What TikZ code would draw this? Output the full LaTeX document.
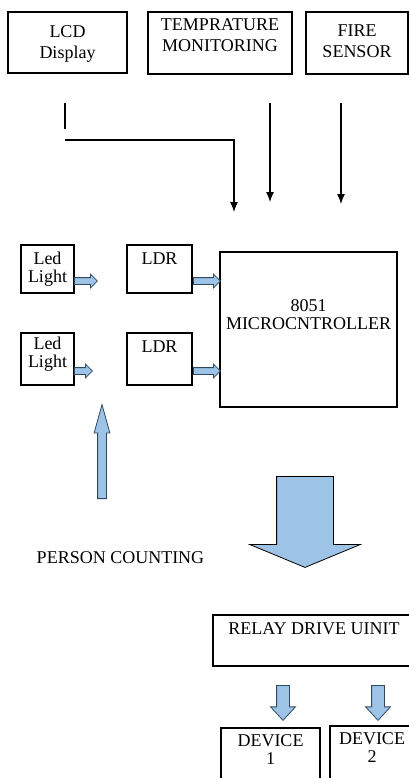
\documentclass[tikz,border=0pt]{standalone}
\usepackage{fontspec}
\setmainfont{Liberation Serif}
\usetikzlibrary{shapes.arrows,arrows.meta}

\definecolor{arrowfill}{HTML}{9DC3E6}
\definecolor{arrowline}{HTML}{2E4A62}

\tikzset{
    box/.style={draw, line width=1.1pt, inner sep=0pt},
    caption/.style={inner sep=0pt, align=center, font=\fontsize{18}{21}\selectfont},
    wire/.style={line width=1.2pt},
    blockarrow/.style={single arrow, draw=arrowline, fill=arrowfill, line width=0.8pt, inner xsep=0pt, anchor=tail},
}

\begin{document}
\begin{tikzpicture}[x=1pt, y=-1pt, >={Latex[length=10pt,width=8pt]}]
\clip (0,0) rectangle (409,778);
\fill[white] (0,0) rectangle (409,778);

% inputs on top
\node (lcd) at (67.5,42.5) [box, minimum width=119, minimum height=61] {};
\node (lcdtext) at (67.5,43.5) [caption] {LCD\\Display};
\node (temp) at (220,43) [box, minimum width=144, minimum height=62] {};
\node (temptext) at (220,35.5) [caption] {TEMPRATURE\\MONITORING};
\node (fire) at (357,43) [box, minimum width=102, minimum height=62] {};
\node (firetext) at (357,41.5) [caption] {FIRE\\SENSOR};

\coordinate (lcdstub) at (65,103);
\coordinate (lcdstubend) at (65,129);
\coordinate (lcdturn) at (65,140);
\coordinate (lcdin) at (234,212);
\coordinate (tempout) at (270,103);
\coordinate (tempin) at (270,202);
\coordinate (fireout) at (341,103);
\coordinate (firein) at (341,204);

\draw[wire] (lcdstub) -- (lcdstubend);
\draw[wire,->] (lcdturn) -| (lcdin);
\draw[wire,->] (tempout) -- (tempin);
\draw[wire,->] (fireout) -- (firein);

% controller
\node (micro) at (308.5,329.5) [box, minimum width=177, minimum height=155] {};
\node (microtext) at (308.5,315) [caption] {8051\\[-3pt]MICROCNTROLLER};

% person counting rows
\foreach \n/\y/\h/\ty/\dy/\ay/\al in {A/269/48/269/259/281/23, B/359/52/354/347/371/18} {%
    \node (led\n) at (47.5,\y) [box, minimum width=53, minimum height=\h] {};
    \node (led\n text) at (47.5,\ty) [caption] {Led\\[-3pt]Light};
    \node (ldr\n) at (159.5,\y) [box, minimum width=65, minimum height=\h] {};
    \node (ldr\n text) at (159.5,\dy) [caption] {LDR};
    \node (led\n arrow) at (74,\ay) [blockarrow, minimum height=\al, inner ysep=3pt,
        single arrow head extend=3.5pt, single arrow tip angle=90] {};
    \node (ldr\n arrow) at (193,\ay) [blockarrow, minimum height=27, inner ysep=3pt,
        single arrow head extend=3.5pt, single arrow tip angle=90] {};
}

\node (personarrow) at (102,499) [blockarrow, rotate=90, minimum height=94, inner ysep=4pt,
    single arrow head extend=3.5pt, single arrow tip angle=31] {};
\node (person) at (120.5,557.5) [caption] {PERSON COUNTING};

% output side
\node (outarrow) at (305,476) [blockarrow, draw=black, rotate=-90, minimum height=91, inner ysep=28pt,
    single arrow head extend=27pt, single arrow tip angle=135] {};
\node (relay) at (312.5,640.5) [box, minimum width=199, minimum height=51] {};
\node (relaytext) at (314,628.5) [caption] {RELAY DRIVE UINIT};

\node (relayarrowA) at (283,685) [blockarrow, rotate=-90, minimum height=35, inner ysep=6pt,
    single arrow head extend=6pt, single arrow tip angle=85] {};
\node (relayarrowB) at (378,685) [blockarrow, rotate=-90, minimum height=35, inner ysep=6pt,
    single arrow head extend=6pt, single arrow tip angle=85] {};

\node (deviceA) at (270.5,764) [box, minimum width=99, minimum height=72] {};
\node (deviceAtext) at (270.5,750) [caption] {DEVICE\\[-3pt]1};
\node (deviceB) at (371,763) [box, minimum width=82, minimum height=74] {};
\node (deviceBtext) at (372,747.5) [caption] {DEVICE\\[-3pt]2};
\end{tikzpicture}
\end{document}
